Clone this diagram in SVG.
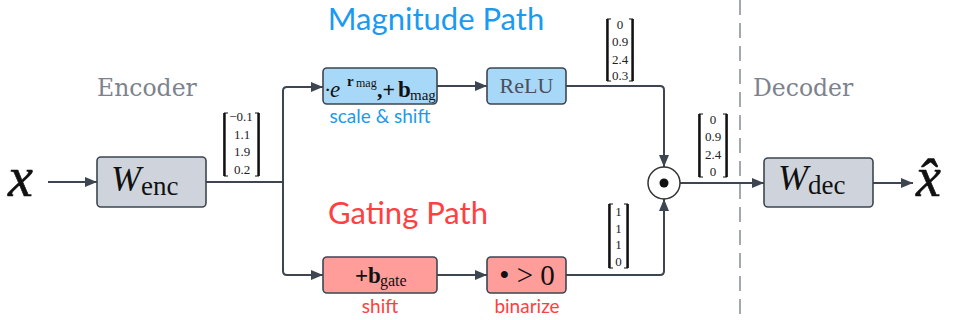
<svg xmlns="http://www.w3.org/2000/svg" width="956" height="320" viewBox="0 0 956 320">
<defs>
<marker id="ah" viewBox="0 0 12 10" refX="12" refY="5" markerWidth="12" markerHeight="10" markerUnits="userSpaceOnUse" orient="auto">
<path d="M0,0 L12,5 L0,10 z" fill="#3d4550"/>
</marker>
<style>
.ln{fill:none;stroke:#3d4550;stroke-width:2}
.box{stroke:#3d4550;stroke-width:1.6}
.gray{fill:#cfd4dc}
.blue{fill:#a8d8f8}
.red{fill:#ff9d9a}
.serif{font-family:"Liberation Serif","Times New Roman",serif}
.sec{font-family:"DejaVu Serif",serif;font-size:23.5px;fill:#7d838d}
.sans{font-family:Lato,"Open Sans",sans-serif}
.vec{font-family:"Liberation Serif",serif;font-size:13px;fill:#222;text-anchor:middle}
.br{fill:none;stroke:#111;stroke-width:1}
.brt{stroke:#111;stroke-width:2.4}
.math{font-family:"Liberation Serif",serif;font-style:italic;fill:#111;stroke:#111;stroke-width:0.6}
</style>
</defs>
<rect width="956" height="320" fill="#ffffff"/>

<line x1="740" y1="0" x2="740" y2="320" stroke="#a3a7ae" stroke-width="2" stroke-dasharray="15,8"/>

<text class="sec" x="97" y="96">Encoder</text>
<text class="sec" x="753" y="96">Decoder</text>
<text class="sans" x="436" y="30" font-size="31" fill="#1a9af0" text-anchor="middle">Magnitude Path</text>
<text class="sans" x="408" y="224" font-size="31" fill="#ff4040" text-anchor="middle">Gating Path</text>

<g id="connectors">
<line class="ln" x1="48" y1="182" x2="97" y2="182" marker-end="url(#ah)"/>
<path class="ln" d="M206,182 H283 V91 Q283,87 287,87 H323" marker-end="url(#ah)"/>
<path class="ln" d="M283,182 V271 Q283,275 287,275 H323" marker-end="url(#ah)"/>
<line class="ln" x1="437" y1="86" x2="487" y2="86" marker-end="url(#ah)"/>
<line class="ln" x1="437" y1="275" x2="487" y2="275" marker-end="url(#ah)"/>
<path class="ln" d="M566,86 H660 Q664,86 664,90 V167" marker-end="url(#ah)"/>
<path class="ln" d="M566,275 H660 Q664,275 664,271 V199" marker-end="url(#ah)"/>
<line class="ln" x1="680" y1="183" x2="764" y2="183" marker-end="url(#ah)"/>
<line class="ln" x1="873" y1="183" x2="913" y2="183" marker-end="url(#ah)"/>
</g>

<g id="input">
<text class="math" x="8" y="196" font-size="56">x</text>
</g>

<g id="encoder">
<rect class="box gray" x="97" y="157" width="109" height="50" rx="4"/>
<text class="serif" x="111" y="191" font-size="36" font-style="italic" fill="#111">W</text>
<text class="serif" x="141" y="195" font-size="27" fill="#111">enc</text>
</g>

<g id="vec-enc">
<path class="br" d="M228,113 H224 V176 H228 M255,113 H259 V176 H255"/>
<line class="brt" x1="224.5" y1="113" x2="224.5" y2="176"/>
<line class="brt" x1="258.5" y1="113" x2="258.5" y2="176"/>
<text class="vec" x="241" y="121">−0.1</text>
<text class="vec" x="242" y="138.5">1.1</text>
<text class="vec" x="242" y="156">1.9</text>
<text class="vec" x="242" y="174">0.2</text>
</g>

<g id="scale-shift">
<rect class="box blue" x="323" y="68" width="114" height="36" rx="4"/>
<text class="serif" x="324" y="97" font-size="22" fill="#111">·</text>
<text class="serif" x="330" y="97" font-size="23" font-style="italic" fill="#111">e</text>
<text class="serif" x="347" y="86" font-size="15" font-weight="bold" fill="#111">r</text>
<text class="serif" x="356" y="87" font-size="12" fill="#111">mag</text>
<text class="serif" x="377" y="97" font-size="22" font-weight="bold" fill="#111">,+</text>
<text class="serif" x="398" y="97" font-size="23" font-weight="bold" fill="#111">b</text>
<text class="serif" x="410" y="100" font-size="15" fill="#111">mag</text>
<text class="sans" x="380" y="123" font-size="19" fill="#1a9af0" text-anchor="middle">scale &amp; shift</text>
</g>

<g id="relu">
<rect class="box blue" x="487" y="68" width="79" height="36" rx="4"/>
<text class="serif" x="526.5" y="93" font-size="22" fill="#4a505a" text-anchor="middle">ReLU</text>
</g>

<g id="vec-mag">
<path class="br" d="M611,19 H607 V81 H611 M629,19 H633 V81 H629"/>
<line class="brt" x1="607.5" y1="19" x2="607.5" y2="81"/>
<line class="brt" x1="632.5" y1="19" x2="632.5" y2="81"/>
<text class="vec" x="620" y="28.5">0</text>
<text class="vec" x="620" y="46">0.9</text>
<text class="vec" x="620" y="63.5">2.4</text>
<text class="vec" x="620" y="80">0.3</text>
</g>

<g id="shift">
<rect class="box red" x="323" y="257" width="114" height="36" rx="4"/>
<text class="serif" x="355" y="283" font-size="23" font-weight="bold" fill="#111">+b</text>
<text class="serif" x="380" y="286" font-size="16" fill="#111">gate</text>
<text class="sans" x="380" y="313" font-size="19" fill="#ff4040" text-anchor="middle">shift</text>
</g>

<g id="binarize">
<rect class="box red" x="487" y="257" width="79" height="36" rx="4"/>
<text class="serif" x="527" y="285" font-size="29" fill="#111" text-anchor="middle">• &gt; 0</text>
<text class="sans" x="527" y="313" font-size="19" fill="#ff4040" text-anchor="middle">binarize</text>
</g>

<g id="vec-gate">
<path class="br" d="M613,204 H609 V268 H613 M624,204 H628 V268 H624"/>
<line class="brt" x1="609.5" y1="204" x2="609.5" y2="268"/>
<line class="brt" x1="627.5" y1="204" x2="627.5" y2="268"/>
<text class="vec" x="618.5" y="215.5">1</text>
<text class="vec" x="618.5" y="232.5">1</text>
<text class="vec" x="618.5" y="248.5">1</text>
<text class="vec" x="618.5" y="266">0</text>
</g>

<g id="hadamard">
<circle cx="664" cy="183" r="16" fill="#ffffff" stroke="#333" stroke-width="1.5"/>
<circle cx="664" cy="183" r="4.5" fill="#111"/>
</g>

<g id="vec-out">
<path class="br" d="M703,114 H699 V177 H703 M723,114 H727 V177 H723"/>
<line class="brt" x1="699.5" y1="114" x2="699.5" y2="177"/>
<line class="brt" x1="726.5" y1="114" x2="726.5" y2="177"/>
<text class="vec" x="713" y="123.5">0</text>
<text class="vec" x="713" y="141">0.9</text>
<text class="vec" x="713" y="159">2.4</text>
<text class="vec" x="713" y="176">0</text>
</g>

<g id="decoder">
<rect class="box gray" x="764" y="158" width="109" height="49" rx="4"/>
<text class="serif" x="778" y="190" font-size="36" font-style="italic" fill="#111">W</text>
<text class="serif" x="808" y="194" font-size="27" fill="#111">dec</text>
</g>

<g id="output">
<text class="math" x="916" y="196" font-size="56">x&#x302;</text>
</g>
</svg>
